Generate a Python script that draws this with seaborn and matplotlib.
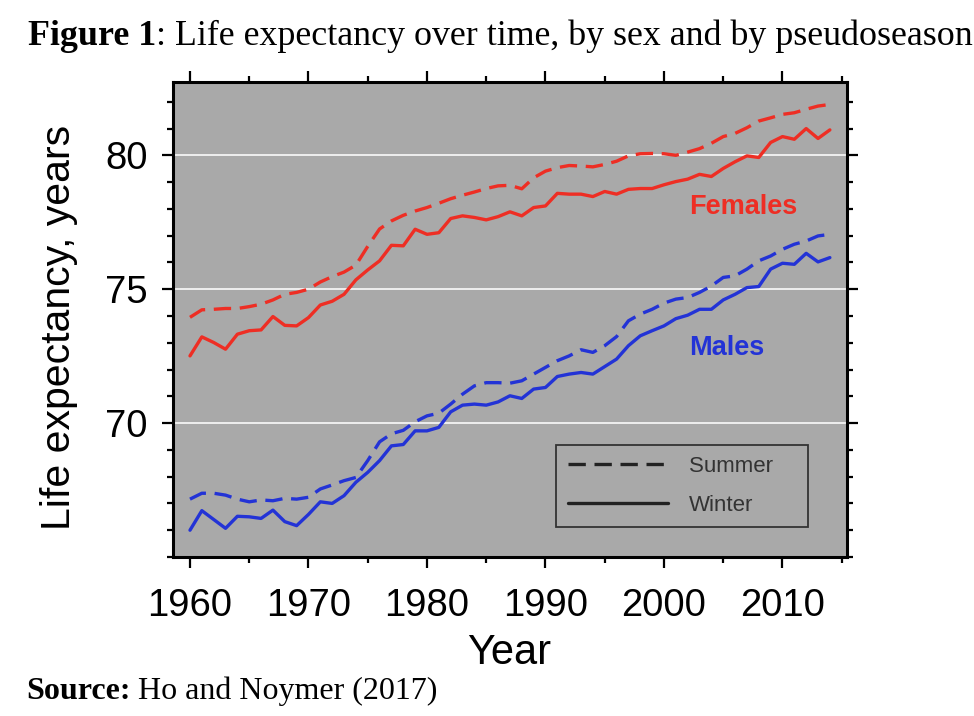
import pandas as pd
import matplotlib
matplotlib.use("Agg")
import matplotlib.pyplot as plt
from matplotlib.lines import Line2D
from matplotlib.ticker import MultipleLocator
import seaborn as sns

# ========================
# DATA
# ========================
years = list(range(1960, 2015))

female_summer = [73.95, 74.23, 74.25, 74.28, 74.28, 74.35, 74.44, 74.60, 74.81, 74.88,
                 75.00, 75.27, 75.47, 75.64, 75.90, 76.60, 77.25, 77.55, 77.76, 77.92,
                 78.05, 78.21, 78.38, 78.51, 78.63, 78.76, 78.86, 78.88, 78.75, 79.16,
                 79.41, 79.54, 79.62, 79.60, 79.57, 79.66, 79.78, 79.98, 80.06, 80.07,
                 80.06, 80.00, 80.12, 80.25, 80.45, 80.70, 80.82, 81.03, 81.28, 81.40,
                 81.53, 81.59, 81.72, 81.84, 81.90]

female_winter = [72.51, 73.22, 73.01, 72.76, 73.32, 73.45, 73.48, 73.98, 73.65, 73.63,
                 73.94, 74.41, 74.55, 74.81, 75.35, 75.72, 76.06, 76.64, 76.62, 77.24,
                 77.05, 77.11, 77.64, 77.74, 77.68, 77.59, 77.71, 77.89, 77.74, 78.05,
                 78.11, 78.58, 78.55, 78.55, 78.46, 78.65, 78.55, 78.73, 78.76, 78.76,
                 78.90, 79.02, 79.11, 79.29, 79.21, 79.51, 79.76, 79.98, 79.92, 80.48,
                 80.70, 80.60, 81.00, 80.63, 80.95]

male_summer = [67.16, 67.38, 67.38, 67.31, 67.16, 67.06, 67.13, 67.10, 67.19, 67.16,
               67.23, 67.54, 67.69, 67.85, 67.97, 68.60, 69.30, 69.60, 69.73, 70.05,
               70.27, 70.37, 70.71, 71.08, 71.39, 71.51, 71.51, 71.49, 71.58, 71.83,
               72.08, 72.33, 72.51, 72.74, 72.64, 72.89, 73.23, 73.82, 74.07, 74.25,
               74.48, 74.63, 74.69, 74.88, 75.12, 75.44, 75.50, 75.75, 76.06, 76.24,
               76.49, 76.68, 76.80, 76.99, 77.05]

male_winter = [66.00, 66.73, 66.40, 66.07, 66.52, 66.50, 66.44, 66.75, 66.32, 66.17,
               66.59, 67.06, 67.00, 67.29, 67.79, 68.16, 68.60, 69.15, 69.20, 69.71,
               69.71, 69.84, 70.42, 70.67, 70.71, 70.67, 70.79, 71.02, 70.92, 71.27,
               71.33, 71.74, 71.83, 71.89, 71.83, 72.11, 72.39, 72.89, 73.26, 73.45,
               73.63, 73.90, 74.03, 74.25, 74.25, 74.60, 74.81, 75.06, 75.10, 75.75,
               75.97, 75.93, 76.34, 76.02, 76.18]

x_ticks = [1960, 1970, 1980, 1990, 2000, 2010]
y_ticks = [70, 75, 80]

# ========================
# BUILD LONG TABLE
# ========================
parts = []
for sex, season, vals in [("Females", "Summer", female_summer),
                          ("Females", "Winter", female_winter),
                          ("Males", "Summer", male_summer),
                          ("Males", "Winter", male_winter)]:
    parts.append(pd.DataFrame({"year": years, "value": vals, "sex": sex, "season": season}))
df = pd.concat(parts, ignore_index=True)

# ========================
# STYLE
# ========================
sns.set_style("ticks")
plt.rcParams["font.family"] = ["Liberation Sans", "DejaVu Sans"]
plt.rcParams["text.color"] = "black"

red = "#ee2e24"
blue = "#2333d6"
panel = "#a9a9a9"
dash = (5.2, 2.6)

fig = plt.figure(figsize=(9.74, 7.16), dpi=100)
ax = fig.add_axes([0.1773, 0.2221, 0.6920, 0.6638])
ax.set_facecolor(panel)

sns.lineplot(data=df, x="year", y="value", hue="sex", style="season",
             palette={"Females": red, "Males": blue},
             dashes={"Summer": dash, "Winter": ""},
             linewidth=2.4, legend=False, ax=ax, zorder=3)

ax.set_xlim(1958.54, 2015.42)
ax.set_ylim(65.0, 82.75)

for v in y_ticks:
    ax.axhline(v, color="#eeeeee", linewidth=1.4, zorder=1)

ax.set_xticks(x_ticks)
ax.set_yticks(y_ticks)
ax.xaxis.set_minor_locator(MultipleLocator(5))
ax.yaxis.set_minor_locator(MultipleLocator(1))
ax.tick_params(which="both", direction="out", top=True, right=True,
               color="black", width=1.6, labelcolor="black")
ax.tick_params(which="major", length=8, labelsize=27.5)
ax.tick_params(which="minor", length=4.5)
ax.tick_params(axis="x", which="major", pad=14)
ax.tick_params(axis="y", which="major", pad=10)
for s in ax.spines.values():
    s.set_linewidth(2.2)
    s.set_color("black")

ax.set_xlabel("Year", fontsize=30, color="black")
ax.set_ylabel("Life expectancy, years", fontsize=29.5, color="black")
ax.xaxis.set_label_coords(0.5, -0.16)
ax.yaxis.set_label_coords(-0.14, 0.483)

ax.text(2002.1, 78.07, "Females", color=red, fontsize=19.5, fontweight="bold",
        ha="left", va="center")
ax.text(2002.1, 72.79, "Males", color=blue, fontsize=19.5, fontweight="bold",
        ha="left", va="center")

handles = [Line2D([], [], color="#222222", linewidth=2.4, dashes=dash),
           Line2D([], [], color="#222222", linewidth=2.4)]
leg = ax.legend(handles, ["Summer    ", "Winter"], loc="lower right",
                bbox_to_anchor=(0.943, 0.063), borderaxespad=0, fontsize=16,
                frameon=True, fancybox=False, facecolor=panel,
                edgecolor="#333333", framealpha=1, handlelength=4.5,
                handletextpad=0.95, labelspacing=0.8, borderpad=0.5)
leg.get_frame().set_linewidth(1.3)
for t in leg.get_texts():
    t.set_color("#333333")

# ========================
# TITLE AND SOURCE
# ========================
serif = ["Liberation Serif", "DejaVu Serif"]
t1 = fig.text(28 / 974, 1 - 45 / 716, "Figure 1", family=serif, fontsize=25.8,
              fontweight="bold", va="baseline", ha="left", color="black")
ax.annotate(": Life expectancy over time, by sex and by pseudoseason",
            xy=(1, 0), xycoords=t1, va="bottom", ha="left", color="black",
            family=serif, fontsize=25.8, annotation_clip=False)

s1 = fig.text(26 / 974, 1 - 699 / 716, "Source:", family=serif, fontsize=23,
              fontweight="bold", va="baseline", ha="left", color="black")
ax.annotate(" Ho and Noymer (2017)", xy=(1, 0), xycoords=s1, va="bottom",
            ha="left", family=serif, fontsize=23, color="black",
            annotation_clip=False)

plt.savefig("out.png", dpi=100)
plt.close()
